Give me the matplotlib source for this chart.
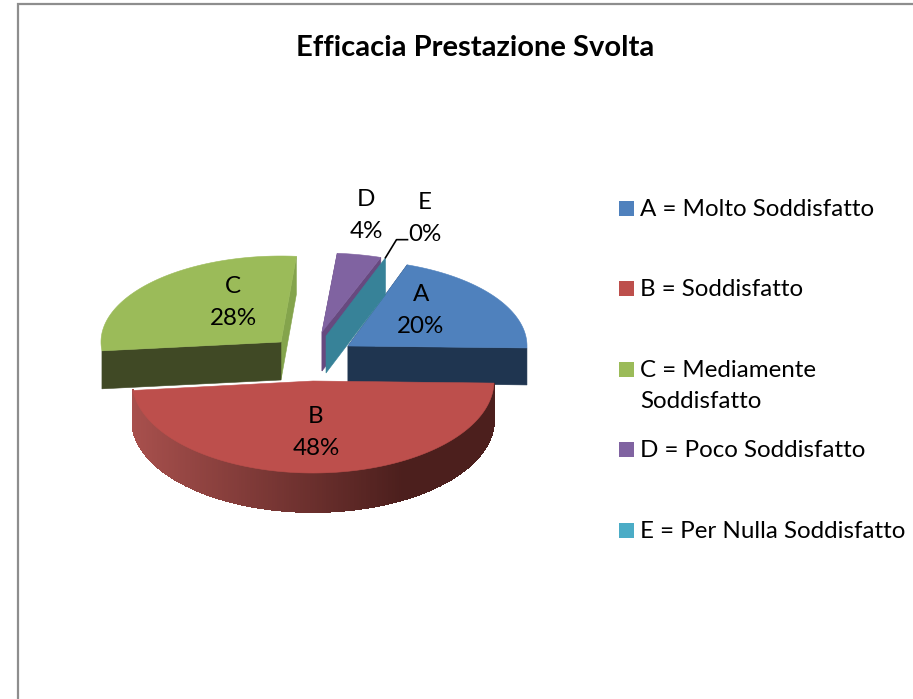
from __future__ import annotations

import matplotlib

matplotlib.use("Agg")
import matplotlib.pyplot as plt
import numpy as np
from matplotlib.colors import to_rgb
from matplotlib.patches import Polygon, Rectangle

TITLE = "Efficacia Prestazione Svolta"
CATEGORIES = ["A", "B", "C", "D", "E"]
PERCENTAGES = [20, 48, 28, 4, 0]
LEGEND_LABELS = [
    "A = Molto Soddisfatto",
    "B = Soddisfatto",
    "C = Mediamente\nSoddisfatto",
    "D = Poco Soddisfatto",
    "E = Per Nulla Soddisfatto",
]

WIDTH, HEIGHT = 913, 699
START_DEG = 19.3

# apex, radii and extrusion of every exploded slice, in pixels
SLICE_STYLES = {
    "A": {"apex": (348, 346), "rx": 179, "ry": 86, "depth": 37, "top": "#4F81BD", "face": "#1F3550"},
    "B": {"apex": (313, 381), "rx": 181, "ry": 92, "depth": 39, "top": "#BD4F4C", "face": "#4C1F1D"},
    "C": {"apex": (281, 342), "rx": 180, "ry": 86, "depth": 38, "top": "#9BBB59", "face": "#404925"},
    "D": {"apex": (322, 332), "rx": 178, "ry": 79, "depth": 39, "top": "#8063A1", "face": "#67497F"},
    "E": {"apex": (326, 336), "rx": 180, "ry": 83, "depth": 37, "top": "#4BACC6", "face": "#378298"},
}
LABEL_POS = {"A": (421, 310.5), "B": (316, 432.5), "C": (233, 302.5), "D": (366, 215.5), "E": (425, 218.5)}


def rim(style: dict, theta_deg) -> tuple:
    theta = np.radians(theta_deg)
    x = style["apex"][0] + style["rx"] * np.sin(theta)
    y = style["apex"][1] - style["ry"] * np.cos(theta)
    return x, y


def radial_face(ax: plt.Axes, style: dict, theta_deg: float, color: str) -> None:
    x, y = rim(style, theta_deg)
    ax0, ay0 = style["apex"]
    d = style["depth"]
    ax.add_patch(Polygon([(ax0, ay0), (x, y), (x, y + d), (ax0, ay0 + d)], closed=True, fc=color, ec=color, lw=0.4))


def top_face(ax: plt.Axes, style: dict, start: float, end: float) -> None:
    x, y = rim(style, np.linspace(start, end, 120))
    pts = [style["apex"]] + list(zip(x, y))
    ax.add_patch(Polygon(pts, closed=True, fc=style["top"], ec=style["top"], lw=0.4))


def outer_wall(ax: plt.Axes, style: dict, start: float, end: float) -> None:
    # gradient from the lit left side to the dark right side
    light = np.array(to_rgb("#A8504D"))
    dark = np.array(to_rgb("#4C1F1D"))
    steps = np.arange(start, end + 0.75, 0.75)
    d = style["depth"]
    for a, b in zip(steps[:-1], steps[1:]):
        xa, ya = rim(style, a)
        xb, yb = rim(style, b)
        t = np.clip((xa - 132) / 270, 0, 1)
        color = light * (1 - t) + dark * t
        ax.add_patch(
            Polygon(
                [(xa, ya), (xb, yb), (xb, yb + d), (xa, ya + d)],
                closed=True,
                fc=color,
                ec=color,
                lw=0.6,
                antialiased=False,
            )
        )


def main() -> None:
    plt.rcParams["font.family"] = ["Lato", "DejaVu Sans"]
    fig = plt.figure(figsize=(WIDTH / 100, HEIGHT / 100), dpi=100)
    ax = fig.add_axes([0, 0, 1, 1])
    ax.set_xlim(0, WIDTH)
    ax.set_ylim(HEIGHT, 0)
    ax.axis("off")

    # chart frame, cropped on the right and at the bottom
    ax.plot([17.5, 17.5, WIDTH], [HEIGHT, 3.5, 3.5], color="#8E8E8E", lw=1.6, solid_joinstyle="miter")

    ax.text(475.5, 47.5, TITLE, ha="center", va="center", fontsize=21, fontweight="bold", color="black")

    angles = {}
    current = START_DEG
    for name, pct in zip(CATEGORIES, PERCENTAGES):
        angles[name] = (current, current + pct * 3.6)
        current += pct * 3.6

    # back slices first, front slice over them
    for name in ["C", "A"]:
        start, end = angles[name]
        style = SLICE_STYLES[name]
        edge = end if name == "C" else start
        lit = "#84A44C" if name == "C" else style["face"]
        radial_face(ax, style, edge, lit)
        radial_face(ax, style, start if name == "C" else end, style["face"])
        top_face(ax, style, start, end)

    start, end = angles["B"]
    outer_wall(ax, SLICE_STYLES["B"], start, end)
    top_face(ax, SLICE_STYLES["B"], start, end)

    start, end = angles["D"]
    radial_face(ax, SLICE_STYLES["D"], start, SLICE_STYLES["D"]["face"])
    radial_face(ax, SLICE_STYLES["D"], end, SLICE_STYLES["D"]["face"])
    top_face(ax, SLICE_STYLES["D"], start, end)

    # the empty slice only shows its inner wall
    start, _ = angles["E"]
    radial_face(ax, SLICE_STYLES["E"], start, SLICE_STYLES["E"]["face"])

    for name, pct in zip(CATEGORIES, PERCENTAGES):
        x, y = LABEL_POS[name]
        ax.text(x, y, f"{name}\n{pct}%", ha="center", va="center", fontsize=17.4, linespacing=1.62, color="black")

    # leader line of the E label
    x0, y0 = rim(SLICE_STYLES["E"], start)
    ax.plot([x0, x0 + 11, x0 + 22], [y0, y0 - 18, y0 - 18], color="black", lw=1.2)

    # legend
    colors = [SLICE_STYLES[name]["top"] for name in CATEGORIES]
    for i, (label, color) in enumerate(zip(LEGEND_LABELS, colors)):
        y = 208.5 + i * 80.4
        ax.add_patch(Rectangle((619, y - 7.5), 15, 15, fc=color, ec="none"))
        ax.text(640, y - 9.5, label, ha="left", va="top", fontsize=17.4, linespacing=1.62, color="black")

    fig.savefig("out.png", dpi=100)
    plt.close(fig)


if __name__ == "__main__":
    main()
